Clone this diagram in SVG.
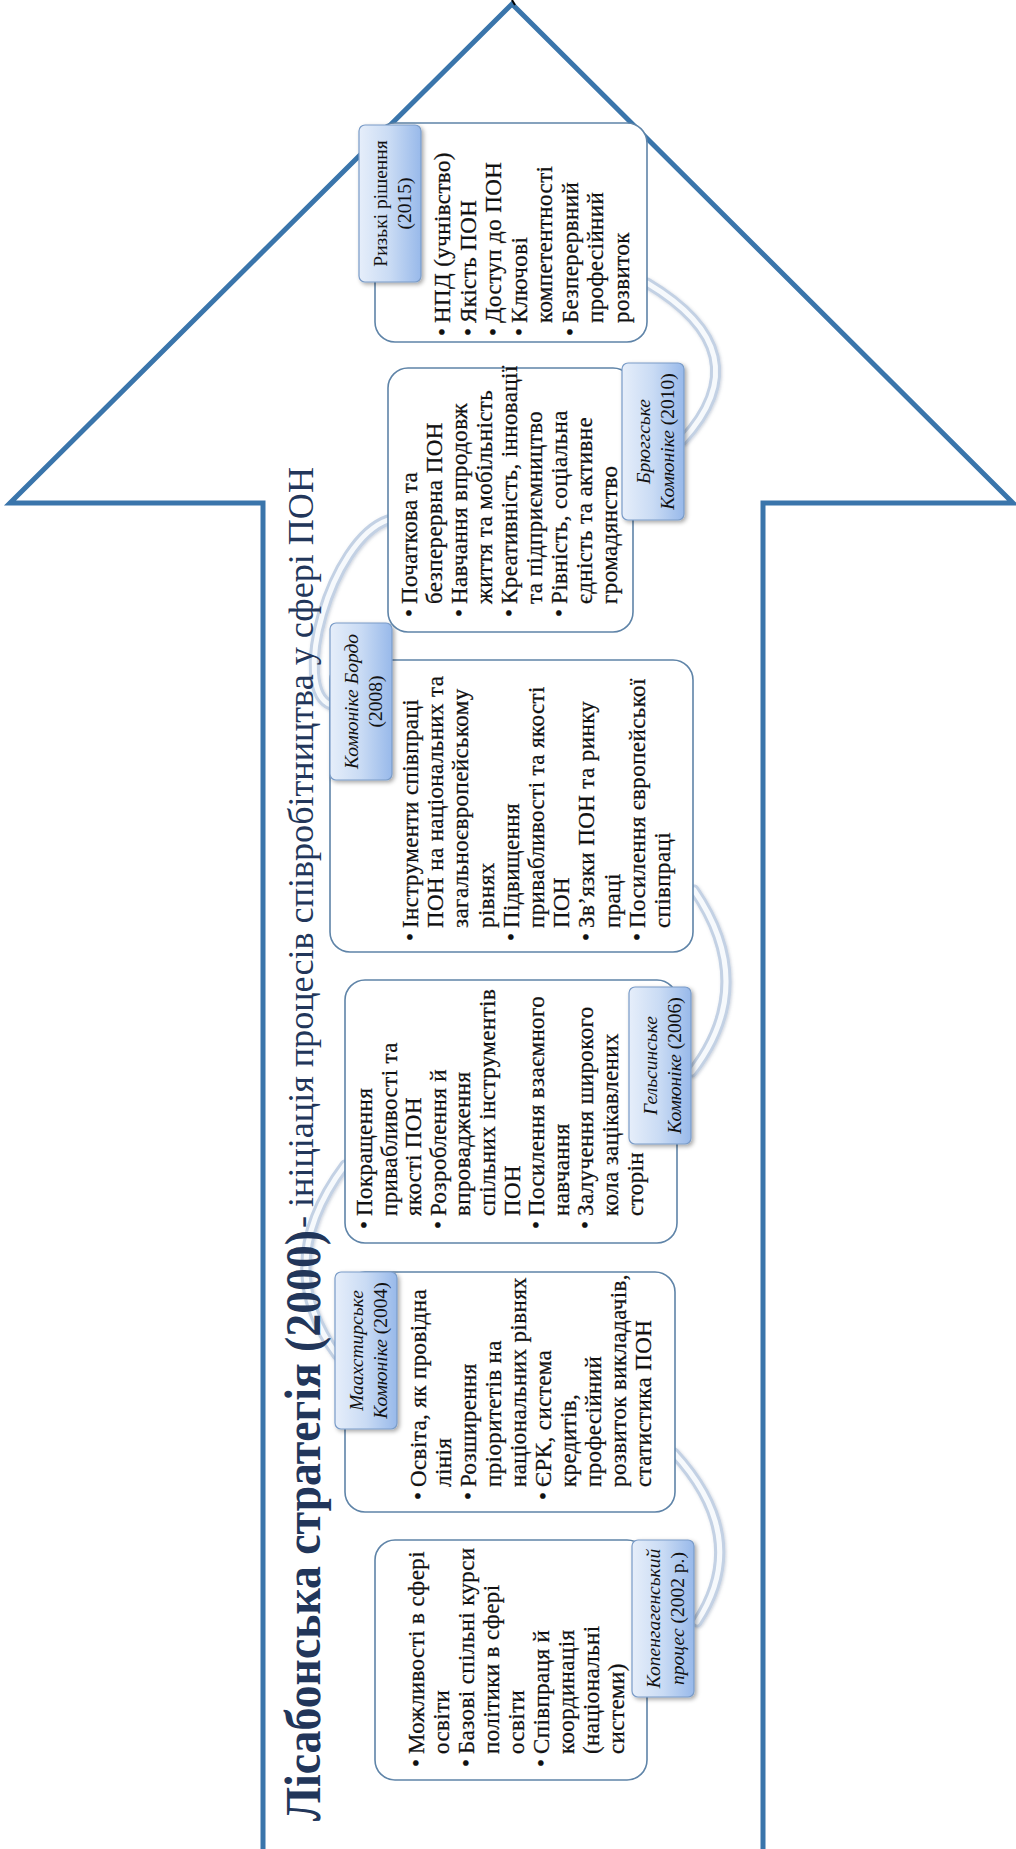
<svg xmlns="http://www.w3.org/2000/svg" width="1016" height="1849" viewBox="0 0 1016 1849">
<style>
.body{fill:#fff;stroke:#5f84a8;stroke-width:1.6}
.lab{stroke:#7a9cc8;stroke-width:1.2}
.bt{font-family:"Liberation Serif","Times New Roman",serif;font-size:23px;fill:#111;stroke:#111;stroke-width:0.25;letter-spacing:0.4px}
.lt{font-family:"Liberation Serif","Times New Roman",serif;font-size:19.5px;fill:#111;text-anchor:middle}
.it{font-style:italic}
.arc1{fill:none;stroke:#c3d1e4;stroke-width:11;stroke-linecap:round}
.arc2{fill:none;stroke:#f6f9fc;stroke-width:5;stroke-linecap:round}
.title{font-family:"Liberation Serif","Times New Roman",serif;fill:#22365a}
</style>
<defs>
<linearGradient id="lg" x1="0" y1="0" x2="1" y2="0">
<stop offset="0" stop-color="#e6eefa"/>
<stop offset="0.5" stop-color="#c9dbf4"/>
<stop offset="1" stop-color="#98b9ea"/>
</linearGradient>
<filter id="sh" x="-20%" y="-20%" width="140%" height="140%">
<feDropShadow dx="2" dy="2" stdDeviation="2" flood-color="#000" flood-opacity="0.35"/>
</filter>
<filter id="ash" x="-20%" y="-20%" width="140%" height="140%">
<feDropShadow dx="1" dy="1" stdDeviation="1.5" flood-color="#5a7090" flood-opacity="0.3"/>
</filter>
</defs>
<g id="arrow">
<polyline points="263,1855 263,503 10,503 512,4 1013,503 763,503 763,1855" fill="none" stroke="#3a75ab" stroke-width="5"/>
<line x1="512" y1="0" x2="515" y2="5" stroke="#000" stroke-width="2"/>
</g>
<g id="connectors" filter="url(#ash)">
<path class="arc1" d="M674,1453 Q752,1538 697,1622"/>
<path class="arc2" d="M674,1453 Q752,1538 697,1622"/>
<path class="arc1" d="M345,1165 Q271,1264 337,1355"/>
<path class="arc2" d="M345,1165 Q271,1264 337,1355"/>
<path class="arc1" d="M694,890 Q759,985 692,1072"/>
<path class="arc2" d="M694,890 Q759,985 692,1072"/>
<path class="arc1" d="M388,520 C330,540 290,690 331,705"/>
<path class="arc2" d="M388,520 C330,540 290,690 331,705"/>
<path class="arc1" d="M647,283 Q763,352 683,440"/>
<path class="arc2" d="M647,283 Q763,352 683,440"/>
</g>
<g id="title">
<text class="title" transform="rotate(-90)" x="-1821" y="320" font-size="50" font-weight="bold" textLength="591" lengthAdjust="spacingAndGlyphs">Лісабонська стратегія (2000)</text>
<text class="title" transform="rotate(-90)" x="-1228" y="313" font-size="36" textLength="761" lengthAdjust="spacingAndGlyphs">- ініціація процесів співробітництва у сфері ПОН</text>
</g>
<g id="node1">
<rect class="body" x="375" y="1540" width="272" height="240" rx="20"/>
<rect class="lab" x="632" y="1540" width="62" height="157" rx="6" fill="url(#lg)" filter="url(#sh)"/>
<text class="bt" transform="rotate(-90)">
<tspan x="-1767" y="424">•</tspan><tspan x="-1754" y="424">Можливості в сфері</tspan>
<tspan x="-1754" y="449">освіти</tspan>
<tspan x="-1767" y="474">•</tspan><tspan x="-1754" y="474">Базові спільні курси</tspan>
<tspan x="-1754" y="499">політики в сфері</tspan>
<tspan x="-1754" y="524">освіти</tspan>
<tspan x="-1767" y="549">•</tspan><tspan x="-1754" y="549">Співпраця й</tspan>
<tspan x="-1754" y="574">координація</tspan>
<tspan x="-1754" y="599">(національні</tspan>
<tspan x="-1754" y="624">системи)</tspan>
</text>
<text class="lt" transform="rotate(-90)"><tspan x="-1618.5" y="660" class="it">Копенгагенський</tspan><tspan x="-1618.5" y="684"><tspan class="it">процес</tspan> (2002 р.)</tspan></text>
</g>
<g id="node2">
<rect class="body" x="345" y="1272" width="330" height="240" rx="20"/>
<rect class="lab" x="335" y="1272" width="62" height="157" rx="6" fill="url(#lg)" filter="url(#sh)"/>
<text class="bt" transform="rotate(-90)">
<tspan x="-1500" y="426">•</tspan><tspan x="-1487" y="426">Освіта, як провідна</tspan>
<tspan x="-1487" y="451">лінія</tspan>
<tspan x="-1500" y="476">•</tspan><tspan x="-1487" y="476">Розширення</tspan>
<tspan x="-1487" y="501">пріоритетів на</tspan>
<tspan x="-1487" y="526">національних рівнях</tspan>
<tspan x="-1500" y="551">•</tspan><tspan x="-1487" y="551">ЄРК, система</tspan>
<tspan x="-1487" y="576">кредитів,</tspan>
<tspan x="-1487" y="601">професійний</tspan>
<tspan x="-1487" y="626">розвиток викладачів,</tspan>
<tspan x="-1487" y="651">статистика ПОН</tspan>
</text>
<text class="lt" transform="rotate(-90)"><tspan x="-1350.5" y="363" class="it">Маахстирське</tspan><tspan x="-1350.5" y="387"><tspan class="it">Комюніке</tspan> (2004)</tspan></text>
</g>
<g id="node3">
<rect class="body" x="345" y="980" width="332" height="263" rx="20"/>
<rect class="lab" x="629" y="987" width="62" height="157" rx="6" fill="url(#lg)" filter="url(#sh)"/>
<text class="bt" transform="rotate(-90)">
<tspan x="-1229" y="372">•</tspan><tspan x="-1216" y="372">Покращення</tspan>
<tspan x="-1216" y="396.6">привабливості та</tspan>
<tspan x="-1216" y="421.2">якості ПОН</tspan>
<tspan x="-1229" y="445.8">•</tspan><tspan x="-1216" y="445.8">Розроблення й</tspan>
<tspan x="-1216" y="470.4">впровадження</tspan>
<tspan x="-1216" y="495">спільних інструментів</tspan>
<tspan x="-1216" y="519.6">ПОН</tspan>
<tspan x="-1229" y="544.2">•</tspan><tspan x="-1216" y="544.2">Посилення взаємного</tspan>
<tspan x="-1216" y="568.8">навчання</tspan>
<tspan x="-1229" y="593.4">•</tspan><tspan x="-1216" y="593.4">Залучення широкого</tspan>
<tspan x="-1216" y="618">кола зацікавлених</tspan>
<tspan x="-1216" y="642.6">сторін</tspan>
</text>
<text class="lt" transform="rotate(-90)"><tspan x="-1065.5" y="657" class="it">Гельсинське</tspan><tspan x="-1065.5" y="681"><tspan class="it">Комюніке</tspan> (2006)</tspan></text>
</g>
<g id="node4">
<rect class="body" x="330" y="660" width="363" height="292" rx="20"/>
<rect class="lab" x="330" y="623" width="62" height="157" rx="6" fill="url(#lg)" filter="url(#sh)"/>
<text class="bt" transform="rotate(-90)">
<tspan x="-941" y="418">•</tspan><tspan x="-928" y="418">Інструменти співпраці</tspan>
<tspan x="-928" y="443.2">ПОН на національних та</tspan>
<tspan x="-928" y="468.4">загальноєвропейському</tspan>
<tspan x="-928" y="493.6">рівнях</tspan>
<tspan x="-941" y="518.8">•</tspan><tspan x="-928" y="518.8">Підвищення</tspan>
<tspan x="-928" y="544">привабливості та якості</tspan>
<tspan x="-928" y="569.2">ПОН</tspan>
<tspan x="-941" y="594.4">•</tspan><tspan x="-928" y="594.4">Зв’язки ПОН та ринку</tspan>
<tspan x="-928" y="619.6">праці</tspan>
<tspan x="-941" y="644.8">•</tspan><tspan x="-928" y="644.8">Посилення європейської</tspan>
<tspan x="-928" y="670">співпраці</tspan>
</text>
<text class="lt" transform="rotate(-90)"><tspan x="-701.5" y="358" class="it">Комюніке Бордо</tspan><tspan x="-701.5" y="382">(2008)</tspan></text>
</g>
<g id="node5">
<rect class="body" x="388" y="368" width="245" height="264" rx="20"/>
<rect class="lab" x="622" y="363" width="62" height="157" rx="6" fill="url(#lg)" filter="url(#sh)"/>
<text class="bt" transform="rotate(-90)">
<tspan x="-617" y="417">•</tspan><tspan x="-604" y="417">Початкова та</tspan>
<tspan x="-604" y="442">безперервна ПОН</tspan>
<tspan x="-617" y="467">•</tspan><tspan x="-604" y="467">Навчання впродовж</tspan>
<tspan x="-604" y="492">життя та мобільність</tspan>
<tspan x="-617" y="517">•</tspan><tspan x="-604" y="517">Креативність, інновації</tspan>
<tspan x="-604" y="542">та підприємництво</tspan>
<tspan x="-617" y="567">•</tspan><tspan x="-604" y="567">Рівність, соціальна</tspan>
<tspan x="-604" y="592">єдність та активне</tspan>
<tspan x="-604" y="617">громадянство</tspan>
</text>
<text class="lt" transform="rotate(-90)"><tspan x="-441.5" y="650" class="it">Брюггське</tspan><tspan x="-441.5" y="674"><tspan class="it">Комюніке</tspan> (2010)</tspan></text>
</g>
<g id="node6">
<rect class="body" x="375" y="123" width="272" height="219" rx="20"/>
<rect class="lab" x="359" y="125" width="62" height="157" rx="6" fill="url(#lg)" filter="url(#sh)"/>
<text class="bt" transform="rotate(-90)">
<tspan x="-336" y="450">•</tspan><tspan x="-323" y="450">НПД (учнівство)</tspan>
<tspan x="-336" y="475.5">•</tspan><tspan x="-323" y="475.5">Якість ПОН</tspan>
<tspan x="-336" y="501">•</tspan><tspan x="-323" y="501">Доступ до ПОН</tspan>
<tspan x="-336" y="526.5">•</tspan><tspan x="-323" y="526.5">Ключові</tspan>
<tspan x="-323" y="552">компетентності</tspan>
<tspan x="-336" y="577.5">•</tspan><tspan x="-323" y="577.5">Безперервний</tspan>
<tspan x="-323" y="603">професійний</tspan>
<tspan x="-323" y="628.5">розвиток</tspan>
</text>
<text class="lt" transform="rotate(-90)"><tspan x="-203.5" y="387">Ризькі рішення</tspan><tspan x="-203.5" y="411">(2015)</tspan></text>
</g>
</svg>
